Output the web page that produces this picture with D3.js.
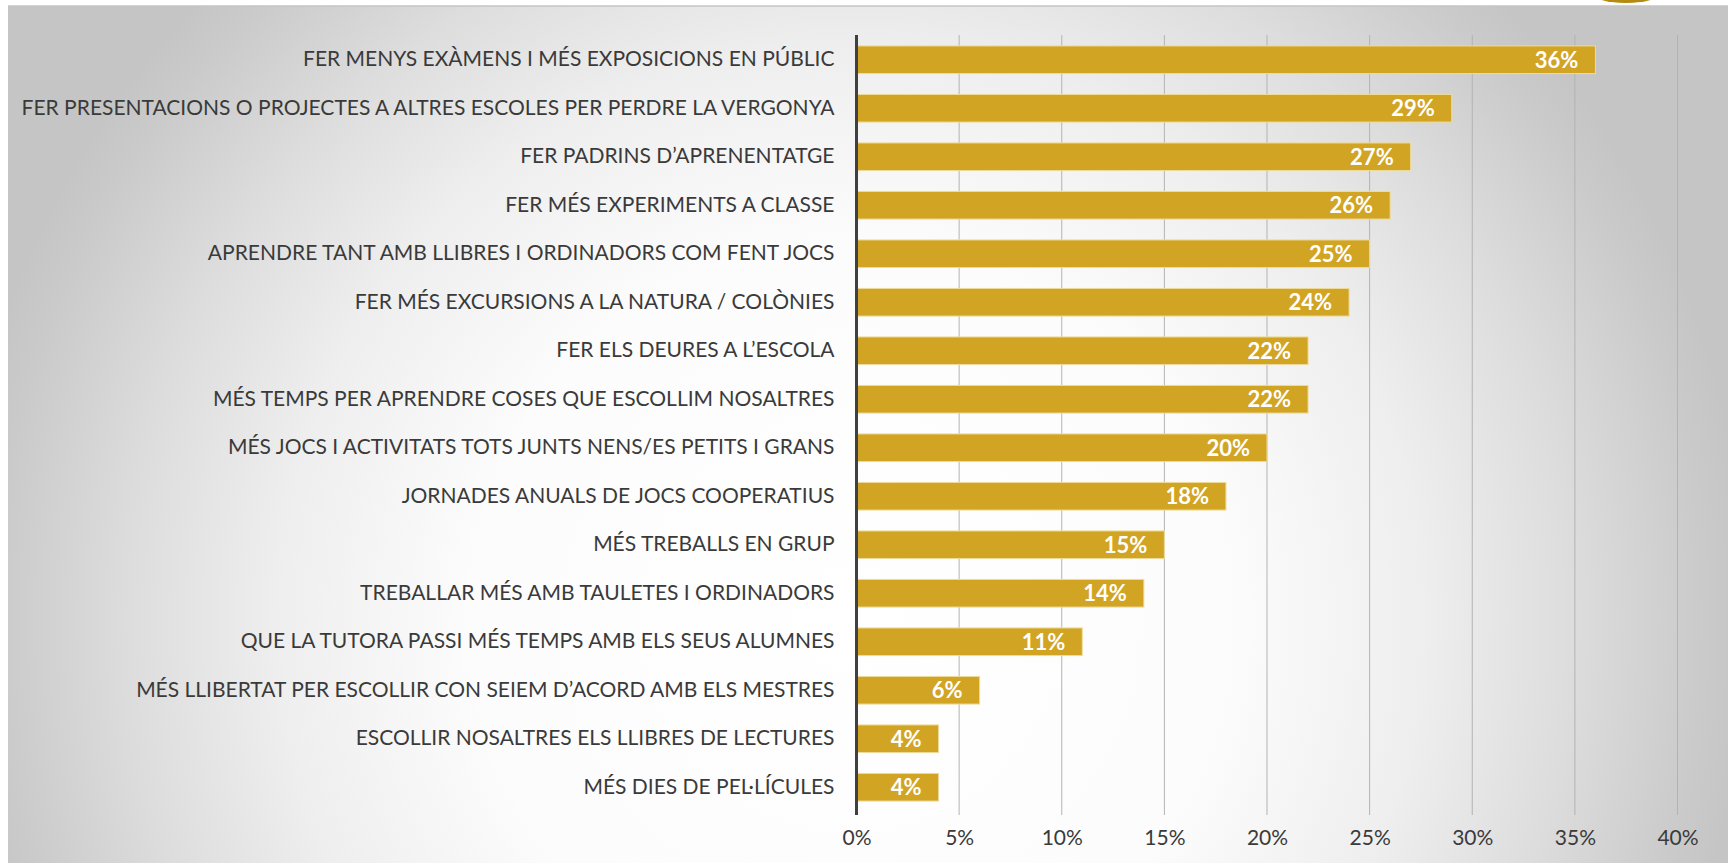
<!DOCTYPE html>
<html><head><meta charset="utf-8">
<script src="https://cdn.jsdelivr.net/npm/d3@7"></script>
<style>
html,body{margin:0;padding:0;background:#fff;}
svg{display:block;}
</style></head>
<body>
<script>
const categories = [
  "FER MENYS EXÀMENS I MÉS EXPOSICIONS EN PÚBLIC",
  "FER PRESENTACIONS O PROJECTES A ALTRES ESCOLES PER PERDRE LA VERGONYA",
  "FER PADRINS D’APRENENTATGE",
  "FER MÉS EXPERIMENTS A CLASSE",
  "APRENDRE TANT AMB LLIBRES I ORDINADORS COM FENT JOCS",
  "FER MÉS EXCURSIONS A LA NATURA / COLÒNIES",
  "FER ELS DEURES A L’ESCOLA",
  "MÉS TEMPS PER APRENDRE COSES QUE ESCOLLIM NOSALTRES",
  "MÉS JOCS I ACTIVITATS TOTS JUNTS NENS/ES PETITS I GRANS",
  "JORNADES ANUALS DE JOCS COOPERATIUS",
  "MÉS TREBALLS EN GRUP",
  "TREBALLAR MÉS AMB TAULETES I ORDINADORS",
  "QUE LA TUTORA PASSI MÉS TEMPS AMB ELS SEUS ALUMNES",
  "MÉS LLIBERTAT PER ESCOLLIR CON SEIEM D’ACORD AMB ELS MESTRES",
  "ESCOLLIR NOSALTRES ELS LLIBRES DE LECTURES",
  "MÉS DIES DE PEL·LÍCULES"
];
const values = [36, 29, 27, 26, 25, 24, 22, 22, 20, 18, 15, 14, 11, 6, 4, 4];
const tickValues = [0, 5, 10, 15, 20, 25, 30, 35, 40];

const W = 1733, H = 865;
const svg = d3.select("body").append("svg").attr("width", W).attr("height", H);

const defs = svg.append("defs");
const rg = defs.append("radialGradient").attr("id", "bg")
  .attr("gradientUnits", "userSpaceOnUse")
  .attr("cx", 850).attr("cy", 620).attr("r", 900);
[[0, "#ffffff"], [0.42, "#fcfcfc"], [0.64, "#eeeeee"], [0.8, "#dddddd"], [0.95, "#cacaca"], [1, "#c5c5c5"]]
  .forEach(s => rg.append("stop").attr("offset", s[0]).attr("stop-color", s[1]));

// decorative gold shape top right
svg.append("ellipse").attr("cx", 1626).attr("cy", -9).attr("rx", 37).attr("ry", 12).attr("fill", "#b38b12");

// background panel
svg.append("rect").attr("x", 8).attr("y", 6).attr("width", 1720).attr("height", 857)
  .attr("fill", "url(#bg)");
svg.append("line").attr("x1", 8).attr("x2", 1728).attr("y1", 6).attr("y2", 6)
  .attr("stroke", "#c4c4c4").attr("stroke-width", 1.5);

const x = d3.scaleLinear().domain([0, 40]).range([856.5, 1677.5]);
const y = d3.scaleBand().domain(categories).range([35.5, 811.5]).paddingInner(0.43).paddingOuter(0.215);

// gridlines
svg.append("g").selectAll("line").data(tickValues.filter(d => d > 0)).join("line")
  .attr("x1", d => x(d)).attr("x2", d => x(d))
  .attr("y1", 35).attr("y2", 815)
  .attr("stroke", "#b3b3b3").attr("stroke-width", 1);

// bars
svg.append("g").selectAll("rect").data(values).join("rect")
  .attr("x", x(0))
  .attr("y", (d, i) => y(categories[i]))
  .attr("width", d => x(d) - x(0))
  .attr("height", y.bandwidth())
  .attr("fill", "#d2a424")
  .attr("stroke", "#eedc9c").attr("stroke-width", 1);

// value labels
svg.append("g").selectAll("text").data(values).join("text")
  .attr("x", d => x(d) - 17)
  .attr("y", (d, i) => y(categories[i]) + y.bandwidth() / 2)
  .attr("dy", "0.36em")
  .attr("text-anchor", "end")
  .attr("font-family", "Lato, 'Open Sans', sans-serif")
  .attr("font-weight", "bold")
  .attr("font-size", 22)
  .attr("fill", "#ffffff")
  .text(d => d + "%");

// category axis
const yAxis = d3.axisLeft(y).tickSize(0).tickPadding(22);
const gy = svg.append("g").attr("transform", `translate(${x(0)},0)`).call(yAxis);
gy.select(".domain").remove();
gy.selectAll("text")
  .attr("font-family", "Lato, 'Open Sans', sans-serif")
  .attr("font-size", 21)
  .attr("fill", "#3a3a3a");
svg.append("line").attr("x1", x(0)).attr("x2", x(0)).attr("y1", 35).attr("y2", 815)
  .attr("stroke", "#404040").attr("stroke-width", 3);

// value axis
const xAxis = d3.axisBottom(x).tickValues(tickValues).tickSize(0).tickPadding(0).tickFormat(d => d + "%");
const gx = svg.append("g").attr("transform", `translate(0,830)`).call(xAxis);
gx.select(".domain").remove();
gx.selectAll("text")
  .attr("dy", "0.71em")
  .attr("font-family", "Lato, 'Open Sans', sans-serif")
  .attr("font-size", 21)
  .attr("fill", "#3a3a3a");
</script>
</body></html>
